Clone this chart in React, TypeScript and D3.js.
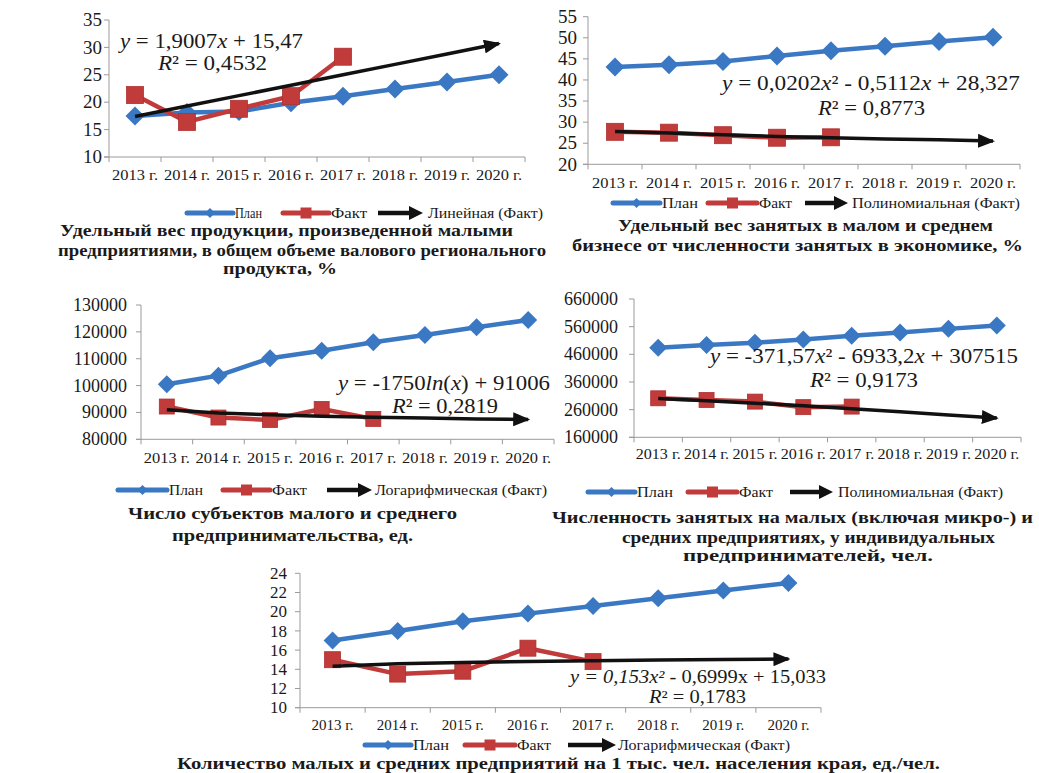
import React from 'react';
import * as d3 from 'd3';

const years = ['2013 г.', '2014 г.', '2015 г.', '2016 г.', '2017 г.', '2018 г.', '2019 г.', '2020 г.'];
const seriesNames = ['План', 'Факт'];

// Panel 1
const plan1 = [17.5, 18.1, 18.3, 19.9, 21.1, 22.4, 23.7, 25.0];
const fact1 = [21.3, 16.4, 18.8, 21.1, 28.3];
const trend1 = [17.4, 19.3, 21.2, 23.1, 25.0, 26.9, 28.8, 30.7];
const ticks1 = [10, 15, 20, 25, 30, 35];

// Panel 2
const plan2 = [43.1, 43.6, 44.4, 45.7, 46.9, 48.0, 49.1, 50.1];
const fact2 = [27.7, 27.5, 26.9, 26.3, 26.4];
const trend2 = [27.8, 27.4, 27.0, 26.6, 26.3, 26.0, 25.8, 25.5];
const ticks2 = [20, 25, 30, 35, 40, 45, 50, 55];

// Panel 3
const plan3 = [100500, 103700, 110200, 113000, 116100, 118800, 121700, 124400];
const fact3 = [92200, 88100, 87200, 91300, 87600];
const trend3 = [91000, 89800, 89100, 88600, 88200, 87900, 87600, 87400];
const ticks3 = [80000, 90000, 100000, 110000, 120000, 130000];

// Panel 4
const plan4 = [484000, 494000, 502000, 514000, 527000, 539000, 552000, 564000];
const fact4 = [301000, 295000, 289000, 269000, 271000];
const trend4 = [300200, 292200, 283400, 273800, 263600, 252500, 240800, 229500];
const ticks4 = [160000, 260000, 360000, 460000, 560000, 660000];

// Panel 5
const plan5 = [17.0, 18.0, 19.0, 19.8, 20.6, 21.4, 22.2, 23.0];
const fact5 = [15.0, 13.5, 13.8, 16.2, 14.8];
const trend5 = [14.33, 14.57, 14.71, 14.82, 14.89, 14.96, 15.01, 15.06];
const ticks5 = [10, 12, 14, 16, 18, 20, 22, 24];

const trendNames = ['Линейная (Факт)', 'Полиномиальная (Факт)', 'Логарифмическая (Факт)', 'Полиномиальная (Факт)', 'Логарифмическая (Факт)'];

const titles1 = ['Удельный вес продукции, произведенной малыми', 'предприятиями, в общем объеме валового регионального', 'продукта, %'];
const titles2 = ['Удельный вес занятых в малом и среднем', 'бизнесе от численности занятых в экономике, %'];
const titles3 = ['Число субъектов малого и среднего', 'предпринимательства, ед.'];
const titles4 = ['Численность занятых на малых (включая микро-) и', 'средних предприятиях, у индивидуальных', 'предпринимателей, чел.'];
const titles5 = ['Количество малых и средних предприятий на 1 тыс. чел. населения края, ед./чел.'];

type Part = { t: string; i?: boolean };
const eq1: Part[] = [{ t: 'y', i: true }, { t: ' = 1,9007' }, { t: 'x', i: true }, { t: ' + 15,47' }];
const r1: Part[] = [{ t: 'R', i: true }, { t: '² = 0,4532' }];
const eq2: Part[] = [{ t: 'y', i: true }, { t: ' = 0,0202' }, { t: 'x', i: true }, { t: '² - 0,5112' }, { t: 'x', i: true }, { t: ' + 28,327' }];
const r2: Part[] = [{ t: 'R', i: true }, { t: '² = 0,8773' }];
const eq3: Part[] = [{ t: 'y', i: true }, { t: ' = -1750' }, { t: 'ln', i: true }, { t: '(' }, { t: 'x', i: true }, { t: ') + 91006' }];
const r3: Part[] = [{ t: 'R', i: true }, { t: '² = 0,2819' }];
const eq4: Part[] = [{ t: 'y', i: true }, { t: ' = -371,57' }, { t: 'x', i: true }, { t: '² - 6933,2' }, { t: 'x', i: true }, { t: ' + 307515' }];
const r4: Part[] = [{ t: 'R', i: true }, { t: '² = 0,9173' }];
const eq5: Part[] = [{ t: 'y = 0,153x²', i: true }, { t: ' - 0,6999x + 15,033' }];
const r5: Part[] = [{ t: 'R', i: true }, { t: '² = 0,1783' }];

const BLUE = '#3b78c3';
const RED = '#c23b3b';
const BLACK = '#111';
const AXIS = '#9a9a9a';
const TXT = '#1a1a1a';
const FONT = 'Times New Roman, Liberation Serif, serif';

type Span = [number, number, number]; // x0, x1, baseline

interface Cfg {
  plan: number[]; fact: number[]; trend: number[]; ticks: number[];
  x0: number; x1: number; yTop: number; yBot: number;
  tickX: number; tickFs: number; xLabY: number; xLabFs: number; xLabFit?: number;
  eq: Part[]; eqPos: Span; r: Part[]; rPos: Span; eqFs: number;
  legendY: number; legend: number[];
  trendName: string;
  titles: string[]; titlePos: Span[]; titleClip?: number;
  dia: number; sq: number;
}

const cfgs: Cfg[] = [
  {
    plan: plan1, fact: fact1, trend: trend1, ticks: ticks1,
    x0: 109, x1: 525, yTop: 20, yBot: 157, tickX: 102, tickFs: 19, xLabY: 180, xLabFs: 15, xLabFit: 46,
    eq: eq1, eqPos: [120, 303, 48], r: r1, rPos: [158, 267, 70], eqFs: 21,
    legendY: 213, legend: [187, 233, 235, 262, 283, 329, 331, 367, 378, 423, 428, 543],
    trendName: trendNames[0],
    titles: titles1, titlePos: [[60, 513, 236], [58, 546, 256], [223, 337, 274]],
    dia: 9.5, sq: 8.5,
  },
  {
    plan: plan2, fact: fact2, trend: trend2, ticks: ticks2,
    x0: 588, x1: 1020, yTop: 16.7, yBot: 164.3, tickX: 577, tickFs: 19, xLabY: 188, xLabFs: 15, xLabFit: 46,
    eq: eq2, eqPos: [722, 1020, 90], r: r2, rPos: [818, 925, 115], eqFs: 21,
    legendY: 203, legend: [613, 660, 662, 698, 708, 757, 759, 792, 805, 848, 852, 1020],
    trendName: trendNames[1],
    titles: titles2, titlePos: [[618, 993, 231], [572, 1023, 251]],
    dia: 9.5, sq: 8.5,
  },
  {
    plan: plan3, fact: fact3, trend: trend3, ticks: ticks3,
    x0: 141, x1: 554, yTop: 305, yBot: 439.3, tickX: 127, tickFs: 18, xLabY: 463, xLabFs: 15, xLabFit: 46,
    eq: eq3, eqPos: [338, 550, 390], r: r3, rPos: [392, 498, 413], eqFs: 21,
    legendY: 490, legend: [118, 167, 169, 203, 223, 270, 272, 307, 327, 372, 375, 547],
    trendName: trendNames[2],
    titles: titles3, titlePos: [[128, 457, 519], [172, 413, 541]],
    dia: 9, sq: 7.5,
  },
  {
    plan: plan4, fact: fact4, trend: trend4, ticks: ticks4,
    x0: 634, x1: 1021, yTop: 299, yBot: 437.3, tickX: 618, tickFs: 18, xLabY: 459, xLabFs: 14.5, xLabFit: 45,
    eq: eq4, eqPos: [710, 1018, 363], r: r4, rPos: [810, 918, 387], eqFs: 21,
    legendY: 492, legend: [588, 635, 637, 673, 688, 737, 739, 773, 790, 833, 838, 1003],
    trendName: trendNames[3],
    titles: titles4, titlePos: [[552, 1033, 523], [622, 995, 543], [683, 933, 561]], titleClip: 563,
    dia: 9, sq: 7.5,
  },
  {
    plan: plan5, fact: fact5, trend: trend5, ticks: ticks5,
    x0: 300, x1: 821, yTop: 573.3, yBot: 707.7, tickX: 287, tickFs: 17, xLabY: 730, xLabFs: 14, xLabFit: 42,
    eq: eq5, eqPos: [570, 826, 683], r: r5, rPos: [649, 746, 703], eqFs: 18,
    legendY: 745, legend: [365, 411, 413, 449, 465, 515, 517, 551, 568, 616, 618, 790],
    trendName: trendNames[4],
    titles: titles5, titlePos: [[177, 940, 769]],
    dia: 9, sq: 8,
  },
];

const diamond = (x: number, y: number, r: number) => `M${x},${y - r}L${x + r},${y}L${x},${y + r}L${x - r},${y}Z`;

function FitText({ pos, fs, bold, parts, text }: { pos: Span; fs: number; bold?: boolean; parts?: Part[]; text?: string }) {
  return (
    <text x={pos[0]} y={pos[2]} textLength={pos[1] - pos[0]} lengthAdjust="spacingAndGlyphs"
      fill={TXT} style={{ fontFamily: FONT, fontSize: fs, fontWeight: bold ? 700 : 400 }}>
      {parts ? parts.map((p, k) => <tspan key={k} style={{ fontStyle: p.i ? 'italic' : 'normal' }}>{p.t}</tspan>) : text}
    </text>
  );
}

function Panel({ c, idx }: { c: Cfg; idx: number }) {
  const x = d3.scaleBand<string>().domain(years).range([c.x0, c.x1]);
  const y = d3.scaleLinear().domain([c.ticks[0], c.ticks[c.ticks.length - 1]]).range([c.yBot, c.yTop]);
  const cx = (i: number) => (x(years[i]) as number) + x.bandwidth() / 2;
  const line = d3.line<number>().x((_, i) => cx(i)).y((d) => y(d));
  const bounds = years.map((yr) => x(yr) as number).concat([c.x1]);
  const L = c.legend;
  const ly = c.legendY;
  const clipId = `clip${idx}`;
  return (
    <g>
      <line x1={c.x0} x2={c.x0} y1={c.yTop} y2={c.yBot} stroke={AXIS} strokeWidth={1} />
      <line x1={c.x0 - 5} x2={c.x1} y1={c.yBot} y2={c.yBot} stroke={AXIS} strokeWidth={1} />
      {c.ticks.map((t) => (
        <g key={t}>
          <line x1={c.x0 - 5} x2={c.x0} y1={y(t)} y2={y(t)} stroke={AXIS} />
          <text x={c.tickX} y={y(t) + c.tickFs * 0.33} textAnchor="end" fill={TXT}
            style={{ fontFamily: FONT, fontSize: c.tickFs }}>{t}</text>
        </g>
      ))}
      {bounds.map((b, i) => (
        <line key={i} x1={b} x2={b} y1={c.yBot} y2={c.yBot + 5} stroke={AXIS} />
      ))}
      {years.map((yr, i) => (
        <text key={yr} x={cx(i)} y={c.xLabY} textAnchor="middle" fill={TXT}
          style={{ fontFamily: FONT, fontSize: c.xLabFs }}
          {...(c.xLabFit ? { textLength: c.xLabFit, lengthAdjust: 'spacingAndGlyphs' } : {})}>{yr}</text>
      ))}
      <path d={line(c.plan) || ''} fill="none" stroke={BLUE} strokeWidth={4.5} strokeLinejoin="round" />
      {c.plan.map((v, i) => <path key={i} d={diamond(cx(i), y(v), c.dia)} fill={BLUE} />)}
      <path d={line(c.fact) || ''} fill="none" stroke={RED} strokeWidth={4.5} strokeLinejoin="round" />
      {c.fact.map((v, i) => (
        <rect key={i} x={cx(i) - c.sq} y={y(v) - c.sq} width={c.sq * 2} height={c.sq * 2} fill={RED} stroke="#b03030" strokeWidth={0.8} />
      ))}
      <path d={line(c.trend) || ''} fill="none" stroke={BLACK} strokeWidth={3.5} markerEnd="url(#arrowHead)" />
      <FitText pos={c.eqPos} fs={c.eqFs} parts={c.eq} />
      <FitText pos={c.rPos} fs={c.eqFs} parts={c.r} />
      <line x1={L[0]} x2={L[1]} y1={ly} y2={ly} stroke={BLUE} strokeWidth={5} strokeLinecap="round" />
      <path d={diamond((L[0] + L[1]) / 2, ly, 5)} fill={BLUE} />
      <FitText pos={[L[2], L[3], ly + 5]} fs={14} text={seriesNames[0]} />
      <line x1={L[4]} x2={L[5]} y1={ly} y2={ly} stroke={RED} strokeWidth={5} strokeLinecap="round" />
      <rect x={(L[4] + L[5]) / 2 - 5.5} y={ly - 5.5} width={11} height={11} fill={RED} />
      <FitText pos={[L[6], L[7], ly + 5]} fs={14} text={seriesNames[1]} />
      <line x1={L[8]} x2={L[9] - 12} y1={ly} y2={ly} stroke={BLACK} strokeWidth={4.5} />
      <path d={`M${L[9] - 14},${ly - 7}L${L[9]},${ly}L${L[9] - 14},${ly + 7}Z`} fill={BLACK} />
      <FitText pos={[L[10], L[11], ly + 5]} fs={14} text={c.trendName} />
      {c.titleClip ? (
        <defs><clipPath id={clipId}><rect x={0} y={0} width={1039} height={c.titleClip} /></clipPath></defs>
      ) : null}
      <g clipPath={c.titleClip ? `url(#${clipId})` : undefined}>
        {c.titles.map((t, i) => <FitText key={i} pos={c.titlePos[i]} fs={17} bold text={t} />)}
      </g>
    </g>
  );
}

export default function App() {
  return (
    <svg width={1039} height={773} viewBox="0 0 1039 773" style={{ position: 'absolute', left: 0, top: 0, background: '#fff' }}>
      <defs>
        <marker id="arrowHead" markerUnits="userSpaceOnUse" markerWidth={18} markerHeight={14} refX={15} refY={7} orient="auto">
          <path d="M0,0L17,7L0,14Z" fill={BLACK} />
        </marker>
      </defs>
      <rect x={0} y={0} width={1039} height={773} fill="#fff" />
      {cfgs.map((c, i) => <Panel key={i} c={c} idx={i} />)}
    </svg>
  );
}
